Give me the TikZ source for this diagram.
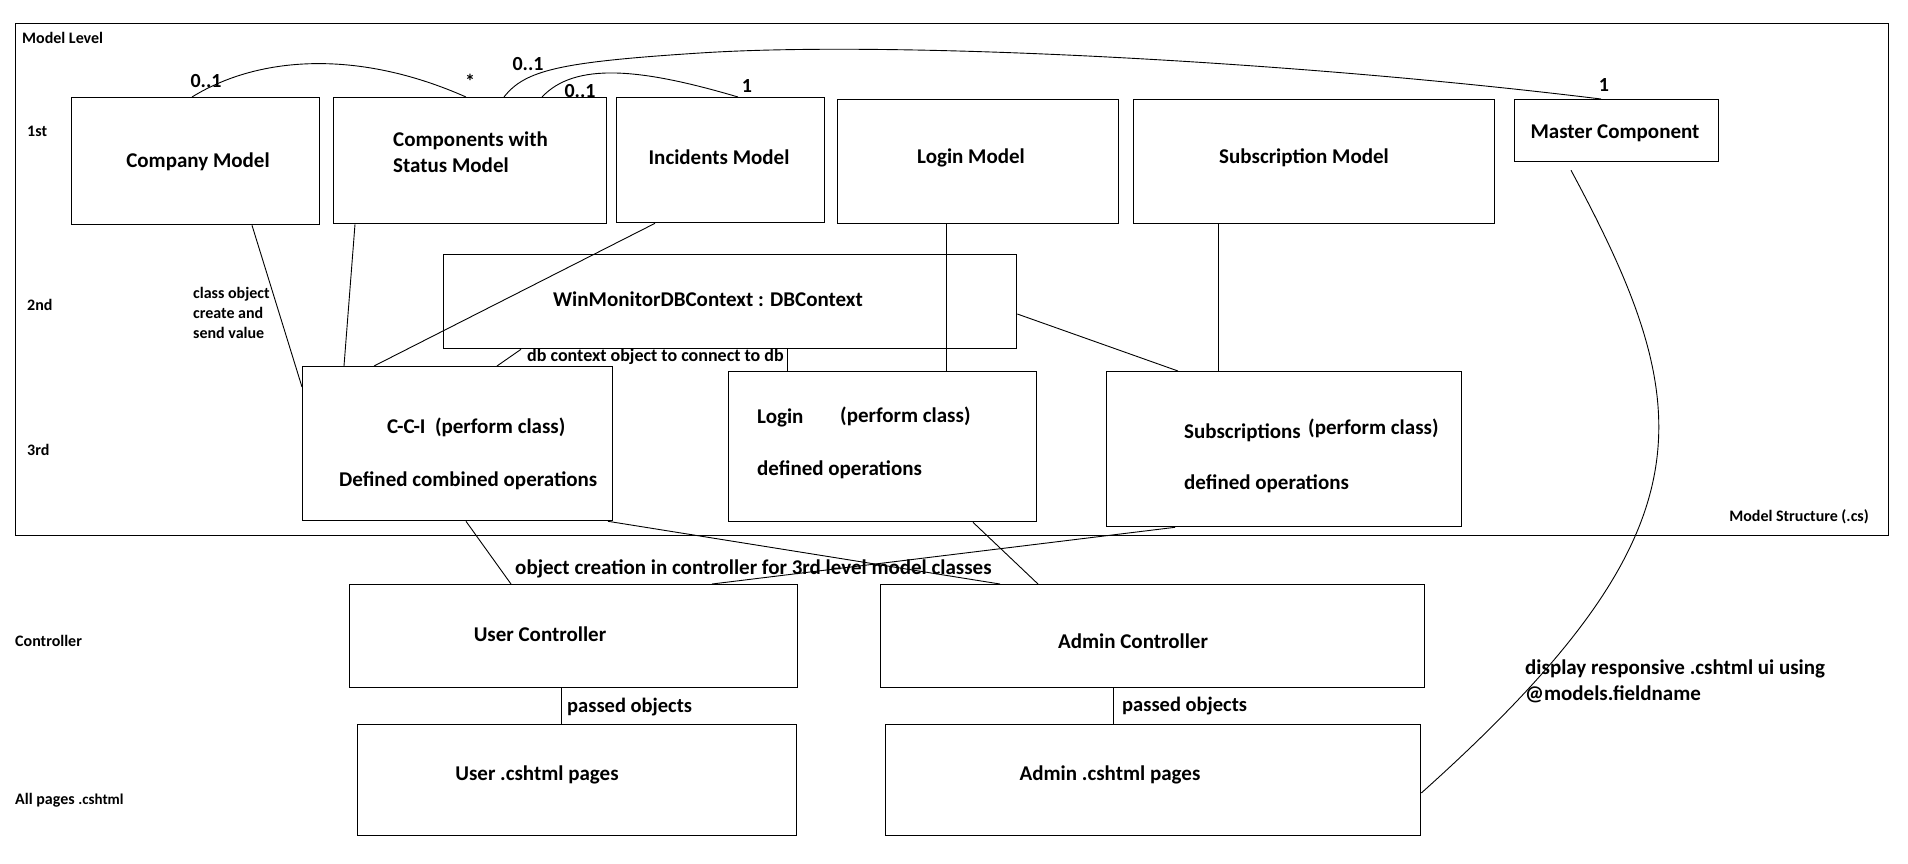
\documentclass[tikz,border=0pt]{standalone}
\usepackage{fontspec}
\setmainfont{Carlito}
\usetikzlibrary{calc}
\begin{document}
\begin{tikzpicture}[x=1pt,y=-1pt,
  box/.style={draw, line width=1.3pt, inner sep=0pt, anchor=north west},
  conn/.style={draw, line width=0.9pt},
  big/.style={font=\fontsize{21}{26}\selectfont\bfseries, inner sep=0pt},
  mid/.style={font=\fontsize{21}{26}\selectfont\bfseries, inner sep=0pt},
  pass/.style={font=\fontsize{20.5}{25}\selectfont\bfseries, inner sep=0pt},
  sml/.style={font=\fontsize{16}{20}\selectfont\bfseries, inner sep=0pt},
  dbl/.style={font=\fontsize{18}{22}\selectfont\bfseries, inner sep=0pt},
  mult/.style={font=\fontsize{20}{24}\selectfont\bfseries, inner sep=0pt}]
\useasboundingbox (0,0) rectangle (1908,863);
% frame
\node[box, minimum width=1873pt, minimum height=512pt] (frame) at (15,23) {};
% first level
\node[box, minimum width=248pt, minimum height=127pt] (company) at (71,97) {};
\node[box, minimum width=273pt, minimum height=126pt] (comp) at (333,97) {};
\node[box, minimum width=208pt, minimum height=125pt] (inc) at (616,97) {};
\node[box, minimum width=281pt, minimum height=124pt] (loginm) at (837,99) {};
\node[box, minimum width=361pt, minimum height=124pt] (subm) at (1133,99) {};
\node[box, minimum width=204pt, minimum height=62pt] (master) at (1514,99) {};
% second level
\node[box, minimum width=573pt, minimum height=94pt] (win) at (443,254) {};
% third level
\node[box, minimum width=310pt, minimum height=154pt] (cci) at (302,366) {};
\node[box, minimum width=308pt, minimum height=150pt] (loginp) at (728,371) {};
\node[box, minimum width=355pt, minimum height=155pt] (subp) at (1106,371) {};
% controllers
\node[box, minimum width=448pt, minimum height=103pt] (userc) at (349,584) {};
\node[box, minimum width=544pt, minimum height=103pt] (adminc) at (880,584) {};
% pages
\node[box, minimum width=439pt, minimum height=111pt] (userp) at (357,724) {};
\node[box, minimum width=535pt, minimum height=111pt] (adminp) at (885,724) {};

% box texts
\node[big] (tcompany) at (198,162) {Company Model};
\node[big, anchor=west, align=left] (tcomp) at (393,152) {Components with\\Status Model};
\node[big] (tinc) at (719,157) {Incidents Model};
\node[big] (tloginm) at (971,158) {Login Model};
\node[big] (tsubm) at (1304,158) {Subscription Model};
\node[big] (tmaster) at (1615,133) {Master Component};
\node[big] (twin) at (708,299) {WinMonitorDBContext : DBContext};
\node[big, anchor=west] (tcci1) at (387,427) {C-C-I\ \ (perform class)};
\node[big, anchor=west] (tcci2) at (339,481) {Defined combined operations};
\node[big, anchor=west] (tlog1) at (757,418) {Login};
\node[big, anchor=west] (tlog2) at (840,416) {(perform class)};
\node[big, anchor=west] (tlog3) at (757,470) {defined operations};
\node[big, anchor=west] (tsub1) at (1184,433) {Subscriptions};
\node[big, anchor=west] (tsub2) at (1308,428) {(perform class)};
\node[big, anchor=west] (tsub3) at (1184,484) {defined operations};
\node[big] (tuserc) at (540,634) {User Controller};
\node[big] (tadminc) at (1133,641) {Admin Controller};
\node[big] (tuserp) at (537,775) {User .cshtml pages};
\node[big] (tadminp) at (1110,775) {Admin .cshtml pages};

% side labels
\node[sml, anchor=west] (lmodel) at (22,38) {Model Level};
\node[sml, anchor=west] (l1) at (27,131) {1st};
\node[sml, anchor=west] (l2) at (27,305) {2nd};
\node[sml, anchor=west] (l3) at (27,450) {3rd};
\node[sml, anchor=west] (lctrl) at (15,641) {Controller};
\node[sml, anchor=west] (lpages) at (15,800) {All pages {\fontsize{15}{18}\selectfont .cshtml}};
\node[sml, anchor=east] (lstruct) at (1869,517) {Model Structure (.cs)};

% multiplicities
\node[mult] (m1) at (206,81) {0..1};
\node[mult] (m2) at (470,81) {*};
\node[mult] (m3) at (528,64) {0..1};
\node[mult] (m4) at (580,91) {0..1};
\node[mult] (m5) at (747,86) {1};
\node[mult] (m6) at (1604,85) {1};

% connector labels
\node[sml, anchor=west, align=left] (lclass) at (193,313) {class object\\create and\\send value};
\node[dbl, anchor=west] (ldb) at (527,357) {db context object to connect to db};
\node[mid, anchor=west] (lobj) at (515,569) {object creation in controller for 3rd level model classes};
\node[pass, anchor=west] (lpass1) at (567,707) {passed objects};
\node[pass, anchor=west] (lpass2) at (1122,706) {passed objects};
\node[mid, anchor=west, align=left] (ldisp) at (1525,681) {display responsive .cshtml ui using\\@models.fieldname};

% curved associations
\draw[conn] ($(company.north west)+(121,0)$) .. controls (260,55) and (360,50) .. ($(comp.north west)+(133,0)$);
\draw[conn] ($(comp.north west)+(171,0)$) .. controls (525,70) and (560,62) .. (700,53)
            .. controls (900,40) and (1300,62) .. ($(master.north west)+(87,0)$);
\draw[conn] ($(comp.north west)+(209,0)$) .. controls (575,62) and (640,68) .. ($(inc.north west)+(122,0)$);
\draw[conn] ($(master.south west)+(57,8)$) .. controls (1700,410) and (1715,530) .. ($(adminp.north east)+(0,69)$);

% straight connectors
\draw[conn] ($(company.south west)+(181,0)$) -- ($(cci.north west)+(0,21)$);
\draw[conn] ($(comp.south west)+(22,0)$) -- ($(cci.north west)+(42,0)$);
\draw[conn] ($(inc.south west)+(39,0)$) -- ($(cci.north west)+(72,0)$);
\draw[conn] ($(win.south west)+(78,0)$) -- ($(cci.north west)+(195,0)$);
\draw[conn] ($(win.south west)+(344,0)$) -- ($(loginp.north west)+(59,0)$);
\draw[conn] ($(loginm.south west)+(109,0)$) -- ($(loginp.north west)+(218,0)$);
\draw[conn] ($(win.north east)+(0,60)$) -- ($(subp.north west)+(72,0)$);
\draw[conn] ($(subm.south west)+(85,0)$) -- ($(subp.north west)+(112,0)$);
\draw[conn] ($(cci.south west)+(164,0)$) -- ($(userc.north west)+(162,0)$);
\draw[conn] ($(cci.south west)+(306,0)$) -- ($(adminc.north west)+(120,0)$);
\draw[conn] ($(subp.south west)+(69,0)$) -- ($(userc.north west)+(363,0)$);
\draw[conn] ($(loginp.south west)+(245,0)$) -- ($(adminc.north west)+(158,0)$);
\draw[conn] ($(userc.south west)+(212,0)$) -- ($(userp.north west)+(204,0)$);
\draw[conn] ($(adminc.south west)+(233,0)$) -- ($(adminp.north west)+(228,0)$);
\end{tikzpicture}
\end{document}
